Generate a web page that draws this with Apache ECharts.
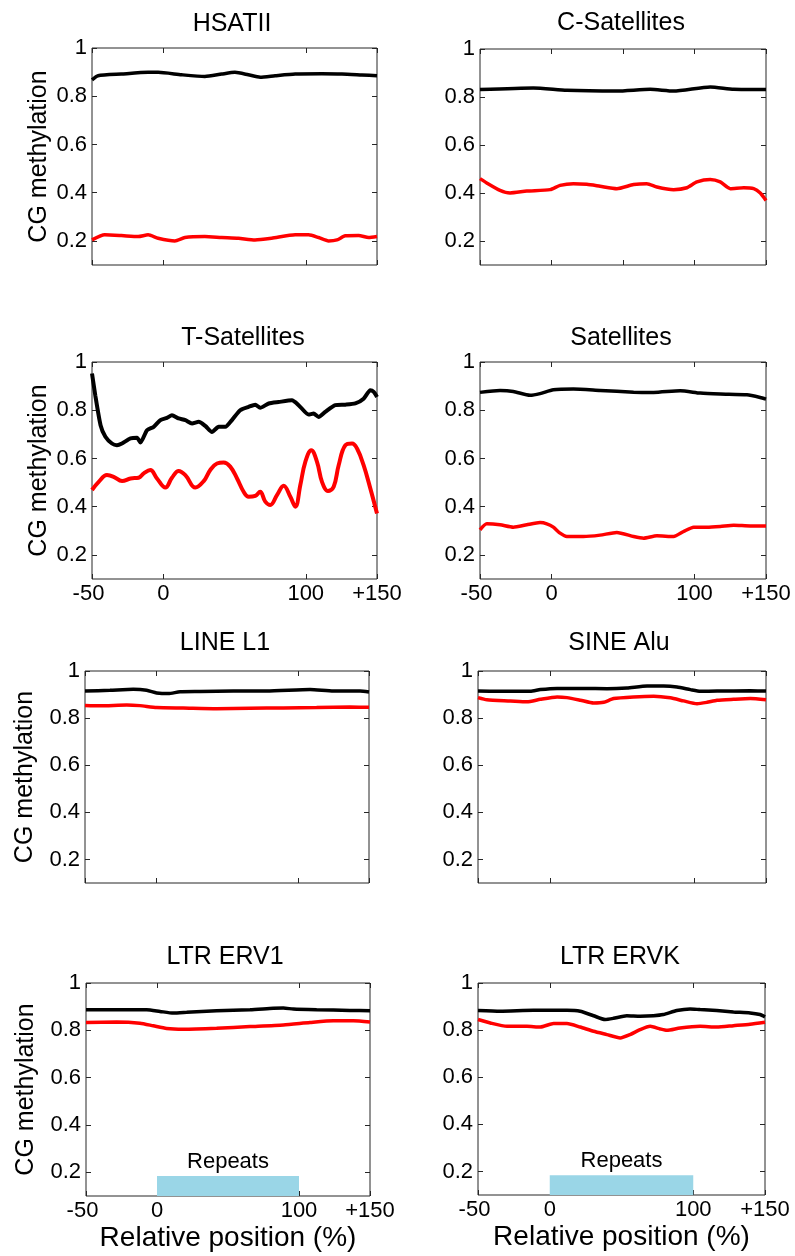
<!DOCTYPE html>
<html>
<head>
<meta charset="utf-8">
<title>CG methylation around repeats</title>
<script src="https://cdn.jsdelivr.net/npm/echarts@6/dist/echarts.min.js"></script>
<style>
  html, body { margin: 0; padding: 0; background: #fff; }
  #main { width: 795px; height: 1256px; }
</style>
</head>
<body>
<div id="main"></div>
<script>
// axis ranges and ticks
const X_MIN = -50, X_MAX = 150;
const Y_MIN = 0.1, Y_MAX = 1;
const yTickValues = [0.2, 0.4, 0.6, 0.8, 1];
const xLabelValues = [-50, 0, 100, 150];
const xTickValues = [-50, 0, 100, 150];
const xTickValuesFine = [-50, 0, 50, 100, 150];

// repeat body marker (bottom panels)
const repeatStart = 0, repeatEnd = 100, repeatTop = 0.184;

// [relative position (%), CG methylation] -- black / red profiles
const hsatBlack = [[-50,0.868],[-45.8,0.885],[-29.4,0.892],[-10.6,0.899],[-3.6,0.899],[12.8,0.889],[29.2,0.882],[41,0.892],[50.3,0.899],[59.7,0.889],[68,0.879],[78.5,0.885],[92.6,0.892],[111.3,0.893],[125.4,0.892],[139.4,0.888],[150,0.885]];
const hsatRed = [[-50,0.204],[-41.1,0.225],[-29.4,0.222],[-17.6,0.218],[-10.6,0.225],[-3.6,0.211],[8.2,0.2],[15.2,0.214],[29.2,0.218],[41,0.214],[52.7,0.211],[64.4,0.204],[76.1,0.211],[92.6,0.225],[102,0.225],[109,0.214],[116,0.2],[121.9,0.204],[127.7,0.221],[137.1,0.222],[144.1,0.214],[150,0.218]];

const cSatBlack = [[-50,0.831],[-12.7,0.838],[10.7,0.828],[45.7,0.825],[69,0.832],[85.4,0.825],[111,0.842],[127.4,0.832],[150,0.831]];
const cSatRed = [[-50,0.46],[-45.3,0.442],[-36,0.411],[-29,0.4],[-17.3,0.408],[-1,0.414],[6,0.432],[15.3,0.439],[24.7,0.436],[34,0.428],[45.7,0.418],[57.4,0.435],[66.7,0.439],[73.7,0.425],[85.4,0.414],[94.7,0.422],[101.7,0.446],[111,0.456],[118,0.446],[125,0.418],[134.4,0.422],[141.4,0.418],[146,0.4],[150,0.369]];

const tSatBlack = [[-50,0.952],[-47.7,0.862],[-44,0.738],[-40.6,0.69],[-36,0.662],[-32.5,0.655],[-29,0.662],[-23,0.683],[-18.4,0.686],[-16,0.666],[-11.4,0.717],[-6.7,0.731],[-2,0.759],[2.6,0.768],[6.1,0.779],[10.8,0.766],[15.5,0.759],[20.2,0.745],[24.9,0.752],[29.5,0.735],[34.2,0.71],[38.9,0.731],[43.6,0.731],[48.2,0.759],[54,0.8],[59.9,0.814],[64.6,0.823],[68,0.81],[74,0.828],[81,0.834],[90.3,0.841],[95,0.821],[102,0.782],[105.5,0.786],[109,0.772],[113.7,0.793],[120.7,0.821],[127.8,0.823],[134.8,0.828],[140.6,0.848],[145.3,0.883],[147.7,0.876],[150,0.855]];
const tSatRed = [[-50,0.469],[-45.3,0.503],[-39.5,0.531],[-34.8,0.524],[-28.9,0.506],[-23,0.517],[-17.3,0.52],[-13.7,0.538],[-9.1,0.552],[-4.4,0.517],[1.5,0.479],[6.1,0.52],[10.8,0.548],[15.5,0.531],[22.5,0.479],[28.4,0.506],[33,0.552],[37.7,0.579],[42.4,0.583],[47,0.566],[51.8,0.517],[56.4,0.462],[59.9,0.441],[64.6,0.445],[68,0.462],[71.6,0.421],[75.1,0.407],[79.8,0.448],[84.5,0.487],[89.2,0.441],[92.7,0.4],[96.2,0.49],[99.7,0.586],[103.9,0.634],[107.9,0.586],[111.4,0.503],[115.6,0.465],[119.6,0.483],[123.1,0.572],[127.8,0.655],[132.5,0.662],[136,0.641],[140.6,0.572],[145.3,0.476],[150,0.372]];

const satBlack = [[-50,0.874],[-36,0.882],[-26.7,0.878],[-15,0.862],[-8,0.869],[1.3,0.885],[15.3,0.888],[34,0.882],[57.4,0.875],[71.4,0.874],[90,0.881],[104,0.871],[118,0.867],[136.7,0.864],[146,0.853],[150,0.846]];
const satRed = [[-50,0.304],[-45.3,0.329],[-36,0.325],[-26.7,0.315],[-17.3,0.325],[-8,0.334],[-3.3,0.329],[1.3,0.315],[6,0.29],[10.7,0.276],[22.3,0.276],[34,0.282],[45.7,0.293],[57.4,0.276],[64.4,0.269],[73.7,0.279],[85.4,0.276],[92.4,0.297],[99.4,0.315],[108.7,0.315],[118,0.318],[127.4,0.323],[139,0.32],[150,0.32]];

const l1Black = [[-50,0.915],[-32.4,0.918],[-16,0.922],[-6.6,0.918],[0.5,0.907],[8.7,0.904],[16.9,0.912],[31,0.913],[54.5,0.915],[77.9,0.915],[108.5,0.921],[124.9,0.915],[143.7,0.915],[150,0.911]];
const l1Red = [[-50,0.854],[-39.4,0.852],[-20.6,0.856],[-11.3,0.853],[0.5,0.845],[19.2,0.843],[42.7,0.84],[66.2,0.842],[89.7,0.843],[113.1,0.845],[136.6,0.847],[150,0.846]];

const aluBlack = [[-50,0.915],[-34.5,0.914],[-13.7,0.914],[-6.7,0.921],[4.9,0.926],[23.4,0.926],[39.6,0.925],[53.5,0.928],[67.4,0.936],[78.9,0.936],[88.2,0.932],[97.5,0.921],[104.4,0.914],[116,0.915],[139.1,0.916],[150,0.915]];
const aluRed = [[-50,0.887],[-43.8,0.878],[-27.5,0.873],[-16,0.869],[-6.7,0.88],[4.9,0.89],[11.8,0.887],[21.1,0.876],[30.3,0.864],[37.3,0.867],[44.2,0.883],[58.1,0.89],[72,0.893],[83.6,0.886],[92.8,0.873],[102.1,0.861],[109,0.867],[116,0.876],[127.5,0.88],[139.1,0.883],[150,0.878]];

const erv1Black = [[-50,0.887],[-28.4,0.887],[-7.3,0.887],[2.1,0.88],[11.5,0.873],[20.9,0.876],[42,0.883],[65.5,0.887],[81.9,0.893],[89,0.894],[96,0.89],[112.4,0.887],[135.9,0.884],[150,0.883]];
const erv1Red = [[-50,0.833],[-28.4,0.835],[-12,0.83],[-2.6,0.819],[6.8,0.808],[18.5,0.805],[42,0.809],[65.5,0.816],[89,0.823],[107.7,0.833],[124.2,0.84],[138.3,0.84],[150,0.835]];

const ervkBlack = [[-50,0.883],[-34.5,0.88],[-11.3,0.884],[12,0.884],[21.2,0.88],[30.5,0.861],[38.6,0.845],[44.4,0.85],[53.7,0.861],[63,0.859],[72.3,0.861],[79.2,0.866],[88.5,0.883],[97.8,0.89],[104.8,0.887],[116.4,0.883],[128,0.877],[139.6,0.873],[146.5,0.866],[150,0.856]];
const ervkRed = [[-50,0.845],[-41.4,0.83],[-29.8,0.816],[-15.9,0.816],[-6.6,0.813],[2.7,0.828],[12,0.828],[21.2,0.813],[30.5,0.795],[39.8,0.781],[49.1,0.767],[56,0.781],[63,0.802],[70,0.816],[76.9,0.805],[81.6,0.799],[90.8,0.809],[104.8,0.816],[116.4,0.813],[128,0.819],[139.6,0.825],[150,0.833]];

const titles = ['HSATII', 'C-Satellites', 'T-Satellites', 'Satellites', 'LINE L1', 'SINE Alu', 'LTR ERV1', 'LTR ERVK'];
const blackSeries = [hsatBlack, cSatBlack, tSatBlack, satBlack, l1Black, aluBlack, erv1Black, ervkBlack];
const redSeries = [hsatRed, cSatRed, tSatRed, satRed, l1Red, aluRed, erv1Red, ervkRed];

// layout of the 8 panels (pixels)
const panels = [
  { left: 92,  top: 48,  width: 285, height: 217, tx: 232, ty: 24,  yName: 40, xLabels: false },
  { left: 480, top: 49,  width: 286, height: 216, tx: 621, ty: 23,  xLabels: false, fineTicks: true },
  { left: 92,  top: 362, width: 285, height: 217, tx: 243, ty: 338, yName: 40, xLabels: true },
  { left: 480, top: 362, width: 286, height: 217, tx: 621, ty: 338, xLabels: true },
  { left: 85,  top: 671, width: 284, height: 212, tx: 225, ty: 643, yName: 47, xLabels: false },
  { left: 478, top: 671, width: 288, height: 212, tx: 619, ty: 643, xLabels: false },
  { left: 86,  top: 983, width: 284, height: 213, tx: 225, ty: 957, yName: 47, xLabels: true, xName: true, repeats: true },
  { left: 478, top: 983, width: 287, height: 212, tx: 620, ty: 957, xLabels: true, xName: true, repeats: true }
];

const FONT = 'Liberation Sans, Arial, Helvetica, sans-serif';
const FRAME = '#262626';
const TEXT = '#000';

const chart = echarts.init(document.getElementById('main'), null, { renderer: 'canvas' });

const grid = [], xAxis = [], yAxis = [], series = [], title = [];

panels.forEach((p, i) => {
  grid.push({ left: p.left, top: p.top, width: p.width, height: p.height, show: true, borderColor: FRAME, borderWidth: 1 });

  title.push({
    text: titles[i], left: p.tx, top: p.ty - 12, textAlign: 'center', padding: 0,
    textStyle: { fontFamily: FONT, fontSize: 25, fontWeight: 'normal', color: TEXT }
  });

  const ticks = p.fineTicks ? xTickValuesFine : xTickValues;
  const tick = { show: true, inside: true, length: 5, lineStyle: { color: FRAME, width: 1 } };
  // bottom x axis
  xAxis.push({
    gridIndex: i, type: 'value', min: X_MIN, max: X_MAX, position: 'bottom',
    axisLine: { show: false, onZero: false }, splitLine: { show: false },
    axisTick: Object.assign({ customValues: ticks }, tick),
    axisLabel: {
      show: p.xLabels, customValues: xLabelValues, margin: 4,
      fontFamily: FONT, fontSize: 22, color: TEXT,
      formatter: v => v === 150 ? '+150' : (v === -50 ? '{m|-50}' : String(v)),
      rich: { m: { fontFamily: FONT, fontSize: 22, color: TEXT, padding: [0, 7, 0, 0] } }
    },
    name: p.xName ? 'Relative position (%)' : '', nameLocation: 'middle', nameGap: 28,
    nameTextStyle: { fontFamily: FONT, fontSize: 28, color: TEXT }
  });
  // top x axis (mirrored ticks)
  xAxis.push({
    gridIndex: i, type: 'value', min: X_MIN, max: X_MAX, position: 'top',
    axisLine: { show: false, onZero: false }, splitLine: { show: false }, axisLabel: { show: false },
    axisTick: Object.assign({ customValues: ticks }, tick)
  });
  // left y axis
  yAxis.push({
    gridIndex: i, type: 'value', min: Y_MIN, max: Y_MAX, position: 'left',
    axisLine: { show: false, onZero: false }, splitLine: { show: false },
    axisTick: Object.assign({ customValues: yTickValues }, tick),
    axisLabel: {
      customValues: yTickValues, margin: 5, fontFamily: FONT, fontSize: 22, color: TEXT,
      formatter: v => v === 1 ? '1' : v.toFixed(1)
    },
    name: p.yName ? 'CG methylation' : '', nameLocation: 'middle', nameGap: p.yName || 0, nameRotate: 90,
    nameTextStyle: { fontFamily: FONT, fontSize: 25, color: TEXT }
  });
  // right y axis (mirrored ticks)
  yAxis.push({
    gridIndex: i, type: 'value', min: Y_MIN, max: Y_MAX, position: 'right',
    axisLine: { show: false, onZero: false }, splitLine: { show: false }, axisLabel: { show: false },
    axisTick: Object.assign({ customValues: yTickValues }, tick)
  });

  const lw = i === 2 ? 4 : 3.5;
  series.push({
    type: 'line', xAxisIndex: 2 * i, yAxisIndex: 2 * i, data: blackSeries[i],
    showSymbol: false, smooth: 0.2, lineStyle: { color: '#000', width: lw }, silent: true, z: 3
  });
  const red = {
    type: 'line', xAxisIndex: 2 * i, yAxisIndex: 2 * i, data: redSeries[i],
    showSymbol: false, smooth: i === 2 ? 0.4 : 0.2, lineStyle: { color: '#ff0000', width: lw }, silent: true, z: 2
  };
  if (p.repeats) {
    red.markArea = {
      silent: true,
      itemStyle: { color: '#9ad6e7', opacity: 1 },
      label: { show: true, position: 'top', distance: 3, fontFamily: FONT, fontSize: 22, color: '#000' },
      data: [[{ name: 'Repeats', coord: [repeatStart, Y_MIN] }, { coord: [repeatEnd, repeatTop] }]]
    };
  }
  series.push(red);
});

chart.setOption({
  backgroundColor: '#fff',
  animation: false,
  title: title,
  grid: grid,
  xAxis: xAxis,
  yAxis: yAxis,
  series: series
});
</script>
</body>
</html>
